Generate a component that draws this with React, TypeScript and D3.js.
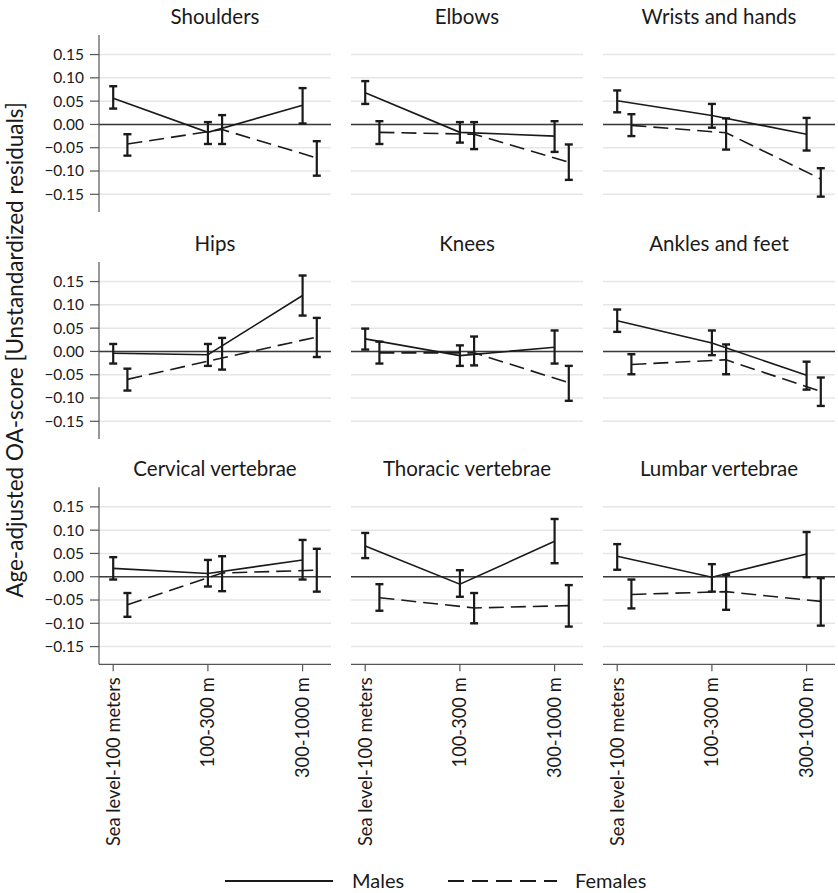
import React from "react";
import * as d3 from "d3";

// panels in reading order
const panelTitles = [
  "Shoulders", "Elbows", "Wrists and hands",
  "Hips", "Knees", "Ankles and feet",
  "Cervical vertebrae", "Thoracic vertebrae", "Lumbar vertebrae",
];
const altitudes = ["Sea level-100 meters", "100-300 m", "300-1000 m"];
const yTicks = [0.15, 0.1, 0.05, 0, -0.05, -0.1, -0.15];

// males: point estimate and CI per altitude
const malesMean = [
  [0.056, -0.017, 0.041], [0.068, -0.017, -0.025], [0.051, 0.019, -0.021],
  [-0.004, -0.007, 0.12], [0.027, -0.009, 0.009], [0.066, 0.018, -0.051],
  [0.018, 0.007, 0.036], [0.066, -0.016, 0.076], [0.044, -0.001, 0.049],
];
const malesLow = [
  [0.034, -0.042, 0.002], [0.044, -0.039, -0.059], [0.026, -0.007, -0.056],
  [-0.026, -0.031, 0.077], [0.004, -0.031, -0.026], [0.042, -0.008, -0.082],
  [-0.006, -0.021, -0.006], [0.04, -0.043, 0.029], [0.015, -0.032, -0.001],
];
const malesHigh = [
  [0.082, 0.005, 0.078], [0.093, 0.005, 0.007], [0.073, 0.044, 0.014],
  [0.016, 0.016, 0.163], [0.049, 0.013, 0.045], [0.09, 0.045, -0.022],
  [0.042, 0.036, 0.079], [0.094, 0.014, 0.124], [0.07, 0.027, 0.096],
];

// females
const femalesMean = [
  [-0.042, -0.011, -0.072], [-0.017, -0.021, -0.081], [-0.002, -0.018, -0.117],
  [-0.06, -0.014, 0.031], [-0.003, -0.003, -0.067], [-0.028, -0.018, -0.086],
  [-0.06, 0.008, 0.014], [-0.045, -0.067, -0.062], [-0.038, -0.032, -0.053],
];
const femalesLow = [
  [-0.067, -0.042, -0.11], [-0.042, -0.053, -0.119], [-0.025, -0.054, -0.155],
  [-0.084, -0.039, -0.012], [-0.026, -0.03, -0.106], [-0.049, -0.049, -0.117],
  [-0.086, -0.031, -0.032], [-0.073, -0.1, -0.107], [-0.068, -0.071, -0.105],
];
const femalesHigh = [
  [-0.021, 0.02, -0.036], [0.007, 0.005, -0.043], [0.022, 0.013, -0.094],
  [-0.037, 0.029, 0.072], [0.021, 0.032, -0.031], [-0.006, 0.015, -0.056],
  [-0.035, 0.044, 0.06], [-0.016, -0.035, -0.018], [-0.006, 0.004, -0.003],
];

const FONT = "Lato, 'Open Sans', sans-serif";
const INK = "#1a1a1a";
const colLeft = [99, 351, 603];
const rowTop = [35, 262, 487.3];
const pw = 232;
const ph = 177;
const femaleShift = 0.15;
const dash = "15,7";

type SeriesProps = {
  mean: number[];
  low: number[];
  high: number[];
  shift: number;
  dashed: boolean;
  x: d3.ScaleLinear<number, number>;
  y: d3.ScaleLinear<number, number>;
};

const Series = ({ mean, low, high, shift, dashed, x, y }: SeriesProps) => {
  const line = d3
    .line<number>()
    .x((_, i) => x(i + 1 + shift))
    .y((d) => y(d));
  return (
    <g>
      <path
        d={line(mean) ?? ""}
        fill="none"
        stroke={INK}
        strokeWidth={1.6}
        strokeDasharray={dashed ? dash : undefined}
      />
      {mean.map((_, i) => {
        const cx = x(i + 1 + shift);
        return (
          <g key={i} stroke={INK}>
            <line x1={cx} x2={cx} y1={y(low[i])} y2={y(high[i])} strokeWidth={2.2} />
            <line x1={cx - 4} x2={cx + 4} y1={y(low[i])} y2={y(low[i])} strokeWidth={2.4} />
            <line x1={cx - 4} x2={cx + 4} y1={y(high[i])} y2={y(high[i])} strokeWidth={2.4} />
          </g>
        );
      })}
    </g>
  );
};

const Panel = ({ idx }: { idx: number }) => {
  const col = idx % 3;
  const row = Math.floor(idx / 3);
  const left = colLeft[col];
  const top = rowTop[row];
  const x = d3.scaleLinear().domain([0.85, 3.3]).range([0, pw]);
  const y = d3.scaleLinear().domain([-0.188, 0.192]).range([ph, 0]);
  return (
    <g transform={`translate(${left},${top})`}>
      <text
        x={pw / 2}
        y={-11}
        textAnchor="middle"
        fontSize={20.5}
        fontFamily={FONT}
        fill={INK}
      >
        {panelTitles[idx]}
      </text>
      {yTicks.map((t) => (
        <line key={t} x1={0} x2={pw} y1={y(t)} y2={y(t)} stroke="#e6e6e6" strokeWidth={1.5} />
      ))}
      <line x1={0} x2={pw} y1={y(0)} y2={y(0)} stroke="#3a3a3a" strokeWidth={1.5} />
      {col === 0 && (
        <g>
          <line x1={0} x2={0} y1={0} y2={ph} stroke="#555" strokeWidth={1.2} />
          {yTicks.map((t) => (
            <g key={t}>
              <line x1={-9} x2={0} y1={y(t)} y2={y(t)} stroke="#555" strokeWidth={1.2} />
              <text
                x={-15}
                y={y(t)}
                dy="0.35em"
                textAnchor="end"
                fontSize={15.5}
                fontFamily={FONT}
                fill={INK}
              >
                {d3.format(".2f")(t)}
              </text>
            </g>
          ))}
        </g>
      )}
      {row === 2 && (
        <g>
          <line x1={0} x2={pw} y1={ph} y2={ph} stroke="#555" strokeWidth={1.2} />
          {altitudes.map((a, i) => (
            <g key={a} transform={`translate(${x(i + 1)},${ph})`}>
              <line y1={0} y2={7} stroke="#555" strokeWidth={1.2} />
              <text
                transform="translate(0,13) rotate(-90)"
                dy="0.35em"
                textAnchor="end"
                fontSize={18.3}
                fontFamily={FONT}
                fill={INK}
              >
                {a}
              </text>
            </g>
          ))}
        </g>
      )}
      <Series
        mean={femalesMean[idx]}
        low={femalesLow[idx]}
        high={femalesHigh[idx]}
        shift={femaleShift}
        dashed
        x={x}
        y={y}
      />
      <Series
        mean={malesMean[idx]}
        low={malesLow[idx]}
        high={malesHigh[idx]}
        shift={0}
        dashed={false}
        x={x}
        y={y}
      />
    </g>
  );
};

export default function App() {
  return (
    <svg
      width={838}
      height={893}
      style={{ position: "absolute", left: 0, top: 0, background: "#fff" }}
    >
      <rect width={838} height={893} fill="#fff" />
      {panelTitles.map((_, i) => (
        <Panel key={i} idx={i} />
      ))}
      <text
        transform="translate(15,350) rotate(-90)"
        dy="0.35em"
        textAnchor="middle"
        fontSize={22.5}
        fontFamily={FONT}
        fill={INK}
      >
        Age-adjusted OA-score [Unstandardized residuals]
      </text>
      <g fontFamily={FONT} fontSize={20} fill={INK}>
        <line x1={225} x2={333} y1={881} y2={881} stroke={INK} strokeWidth={2} />
        <text x={352} y={881} dy="0.35em">Males</text>
        <line
          x1={448}
          x2={557}
          y1={881}
          y2={881}
          stroke={INK}
          strokeWidth={2}
          strokeDasharray="16,8"
        />
        <text x={575} y={881} dy="0.35em">Females</text>
      </g>
    </svg>
  );
}
